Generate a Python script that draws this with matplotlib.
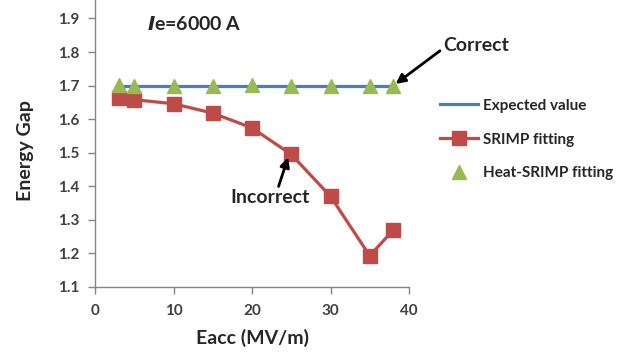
import matplotlib
matplotlib.use("Agg")
import matplotlib.pyplot as plt

# Data
x_vals = [3, 5, 10, 15, 20, 25, 30, 35, 38]
expected = [1.70, 1.70, 1.70, 1.70, 1.70, 1.70, 1.70, 1.70, 1.70]
srimp = [1.662, 1.658, 1.646, 1.618, 1.574, 1.495, 1.370, 1.193, 1.270]
heat_srimp = [1.703, 1.700, 1.700, 1.698, 1.702, 1.699, 1.699, 1.699, 1.700]
x_ticks = [0, 10, 20, 30, 40]
y_ticks = [1.1, 1.2, 1.3, 1.4, 1.5, 1.6, 1.7, 1.8, 1.9]

plt.rcParams['font.family'] = ['Lato', 'DejaVu Sans']
plt.rcParams['font.weight'] = 'bold'

fig = plt.figure(figsize=(6.26, 3.53), dpi=100)
ax = fig.add_axes([95/626, 1-287/353, (409-95)/626, 287/353])

blue = '#4A7EBB'
red = '#BE4B48'
green = '#98B954'
txt = '#262626'

ax.plot(x_vals, expected, color=blue, lw=2.3, label='Expected value', zorder=2)
ax.plot(x_vals, srimp, color=red, lw=2.3, marker='s', ms=9.5, mfc=red, mec=red,
        label='SRIMP fitting', zorder=3)
ax.plot(x_vals, heat_srimp, ls='none', marker='^', ms=9.5, mfc=green, mec=green,
        label='Heat-SRIMP fitting', zorder=4)

ax.set_xlim(0, 40)
ax.set_ylim(1.1, 1.955)
ax.set_xticks(x_ticks)
ax.set_yticks(y_ticks)
ax.set_xticklabels([str(v) for v in x_ticks])
ax.set_yticklabels([f"{v:.1f}" for v in y_ticks])

for s in ['top', 'right']:
    ax.spines[s].set_visible(False)
for s in ['left', 'bottom']:
    ax.spines[s].set_color('#868686')
    ax.spines[s].set_linewidth(1.0)
ax.tick_params(axis='both', direction='out', length=5, color='#868686',
               labelsize=11, labelcolor='#404040', width=1.0)
ax.tick_params(axis='x', pad=7)
ax.tick_params(axis='y', pad=6)
for lab in ax.get_xticklabels() + ax.get_yticklabels():
    lab.set_fontweight('bold')

ax.set_xlabel('Eacc (MV/m)', fontsize=14, fontweight='bold', color=txt)
ax.set_ylabel('Energy Gap', fontsize=14, fontweight='bold', color=txt)
ax.xaxis.set_label_coords(0.5, -0.178)
ax.yaxis.set_label_coords(-0.22, 0.477)
ax.xaxis.label.set_va('center')
ax.yaxis.label.set_va('center')

ax.text(6.6, 1.884, r'$\mathbf{\mathit{I}}$' + 'e=6000 A', fontsize=14,
        fontweight='bold', color=txt, va='center', ha='left')

ax.annotate('Correct', xy=(38.3, 1.705), xytext=(44.3, 1.82),
            fontsize=14, fontweight='bold', color=txt, ha='left', va='center',
            annotation_clip=False,
            arrowprops=dict(arrowstyle='-|>', color='black', lw=2,
                            mutation_scale=14, shrinkA=0, shrinkB=0,
                            relpos=(0, 0.3)))
ax.annotate('Incorrect', xy=(24.6, 1.486), xytext=(17.2, 1.366),
            fontsize=14, fontweight='bold', color=txt, ha='left', va='center',
            arrowprops=dict(arrowstyle='-|>', color='black', lw=2,
                            mutation_scale=14, shrinkA=0, shrinkB=0,
                            relpos=(0.6, 1.0)))

leg = fig.legend(loc='upper left', bbox_to_anchor=(426/626, 1-85/353),
                 frameon=False, fontsize=11, labelspacing=1.3,
                 handlelength=2.5, handletextpad=0.3)
for t in leg.get_texts():
    t.set_fontweight('bold')
    t.set_color(txt)

fig.savefig('out.png', dpi=100)
